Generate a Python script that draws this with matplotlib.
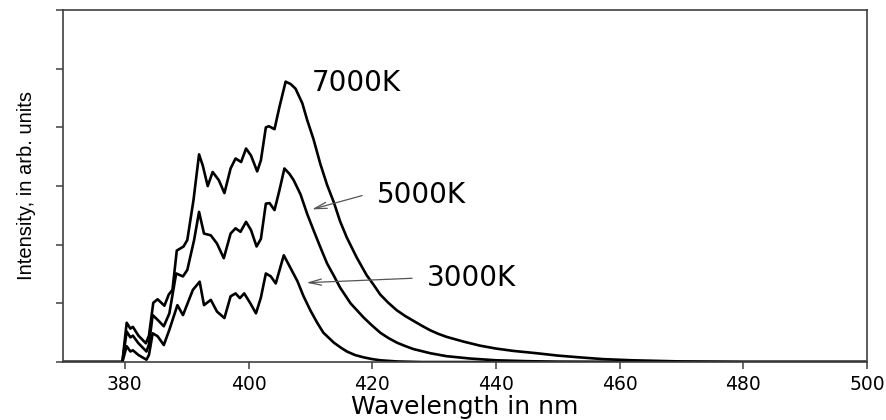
"""
Emission spectra at three temperatures.
"""
import matplotlib
matplotlib.use("Agg")
import matplotlib.pyplot as plt

# wavelength (nm) / intensity (arb. units) for each temperature
wl_7000 = [370.0, 379.6, 380.3, 380.9, 381.3, 382.2, 383.4, 383.9, 384.6, 385.3,
           386.4, 387.1, 387.7, 388.4, 389.5, 390.1, 391.1, 392.0, 392.6, 393.4,
           394.2, 395.2, 396.1, 397.1, 397.9, 398.8, 399.6, 400.4, 401.4, 402.0,
           402.8, 403.3, 404.2, 405.0, 406.0, 406.8, 407.6, 408.7, 409.5, 410.5,
           411.6, 412.7, 413.8, 414.8, 415.9, 417.5, 419.1, 420.2, 421.3, 422.6,
           424.0, 425.4, 426.7, 428.0, 429.4, 430.7, 432.0, 434.7, 437.4, 440.0,
           442.8, 446.6, 450.0, 453.5, 457.3, 462.0, 466.0, 470.0, 480.0, 500.0]
int_7000 = [0.0, 0.0, 0.67, 0.57, 0.60, 0.45, 0.32, 0.45, 1.01, 1.07,
            0.96, 1.15, 1.23, 1.90, 1.97, 2.08, 2.76, 3.54, 3.35, 3.00,
            3.24, 3.10, 2.88, 3.30, 3.47, 3.41, 3.64, 3.52, 3.25, 3.44,
            4.00, 4.02, 3.97, 4.35, 4.78, 4.74, 4.66, 4.41, 4.12, 3.80,
            3.38, 3.02, 2.72, 2.40, 2.12, 1.78, 1.48, 1.32, 1.15, 1.01,
            0.88, 0.78, 0.70, 0.62, 0.54, 0.48, 0.43, 0.35, 0.28, 0.23,
            0.19, 0.15, 0.11, 0.08, 0.05, 0.03, 0.02, 0.01, 0.0, 0.0]

wl_5000 = [370.0, 379.6, 380.3, 380.9, 381.3, 382.2, 383.5, 383.9, 384.5, 385.3,
           386.3, 387.2, 388.3, 389.4, 390.1, 391.2, 392.0, 392.8, 393.9, 394.9,
           396.0, 397.1, 397.9, 398.7, 399.6, 400.4, 401.3, 402.0, 402.8, 403.4,
           404.2, 405.0, 405.8, 406.6, 407.3, 408.4, 409.5, 410.5, 411.6, 412.7,
           413.8, 414.8, 416.5, 418.6, 420.0, 421.3, 422.6, 424.0, 425.4, 426.7,
           429.4, 432.0, 435.8, 440.0, 445.0, 450.0, 460.0, 500.0]
int_5000 = [0.0, 0.0, 0.52, 0.42, 0.45, 0.32, 0.18, 0.30, 0.80, 0.72,
            0.61, 0.83, 1.51, 1.46, 1.57, 2.08, 2.56, 2.19, 2.16, 2.02,
            1.77, 2.19, 2.28, 2.22, 2.39, 2.25, 1.97, 2.10, 2.70, 2.71,
            2.59, 2.93, 3.30, 3.21, 3.10, 2.86, 2.52, 2.25, 1.96, 1.68,
            1.47, 1.27, 1.00, 0.76, 0.62, 0.50, 0.41, 0.33, 0.27, 0.22,
            0.15, 0.10, 0.06, 0.03, 0.015, 0.005, 0.0, 0.0]

wl_3000 = [370.0, 379.6, 380.3, 380.9, 381.3, 382.2, 383.5, 383.9, 384.5, 385.3,
           386.3, 387.2, 388.5, 389.4, 391.0, 392.1, 392.8, 393.9, 394.9, 396.1,
           397.1, 397.9, 398.6, 399.3, 400.3, 401.2, 402.0, 402.8, 403.6, 404.4,
           405.7, 406.8, 407.9, 408.9, 410.0, 411.1, 412.1, 413.8, 415.0, 415.9,
           417.2, 418.6, 420.0, 421.3, 424.0, 428.0, 500.0]
int_3000 = [0.0, 0.0, 0.27, 0.18, 0.20, 0.12, 0.04, 0.12, 0.49, 0.44,
            0.29, 0.55, 0.97, 0.80, 1.23, 1.37, 0.97, 1.06, 0.86, 0.75,
            1.12, 1.17, 1.09, 1.17, 1.00, 0.83, 1.10, 1.51, 1.46, 1.34,
            1.82, 1.60, 1.38, 1.12, 0.88, 0.67, 0.50, 0.33, 0.24, 0.18,
            0.12, 0.08, 0.05, 0.03, 0.01, 0.0, 0.0]

x_ticks = [380, 400, 420, 440, 460, 480, 500]

# label text, text anchor (nm, intensity), arrow tip or None
labels = [
    ("7000K", (410.3, 4.75), None),
    ("5000K", (420.8, 2.85), (409.8, 2.59)),
    ("3000K", (428.9, 1.43), (408.9, 1.35)),
]

fig = plt.figure(figsize=(8.87, 4.2), dpi=100)
ax = fig.add_axes([0.071, 0.138, 0.9065, 0.838])

for wl, inten in [(wl_7000, int_7000), (wl_5000, int_5000), (wl_3000, int_3000)]:
    ax.plot(wl, inten, color="black", lw=1.9, solid_joinstyle="round")

ax.set_xlim(370, 500)
ax.set_ylim(0, 6)
ax.set_xticks(x_ticks)
ax.set_yticks(range(0, 7))
ax.set_yticklabels([])
ax.tick_params(direction="out", length=5, width=1.1, color="#404040",
               labelsize=13.5, pad=4)
for s in ax.spines.values():
    s.set_color("#404040")
    s.set_linewidth(1.2)

ax.set_xlabel("Wavelength in nm", fontsize=18, va="baseline")
ax.xaxis.set_label_coords(0.5, -0.148)
ax.set_ylabel("Intensity, in arb. units", fontsize=14.5, family="Liberation Sans")
ax.yaxis.set_label_coords(-0.033, 0.503)

for text, (tx, ty), tip in labels:
    ax.text(tx, ty, text, fontsize=20, ha="left", va="center")
    if tip is not None:
        ax.annotate("", xy=tip, xytext=(tx - 2.0, ty),
                    arrowprops=dict(arrowstyle="->, head_length=0.9, head_width=0.22",
                                    color="#555555", lw=0.9))

fig.savefig("out.png", dpi=100)
